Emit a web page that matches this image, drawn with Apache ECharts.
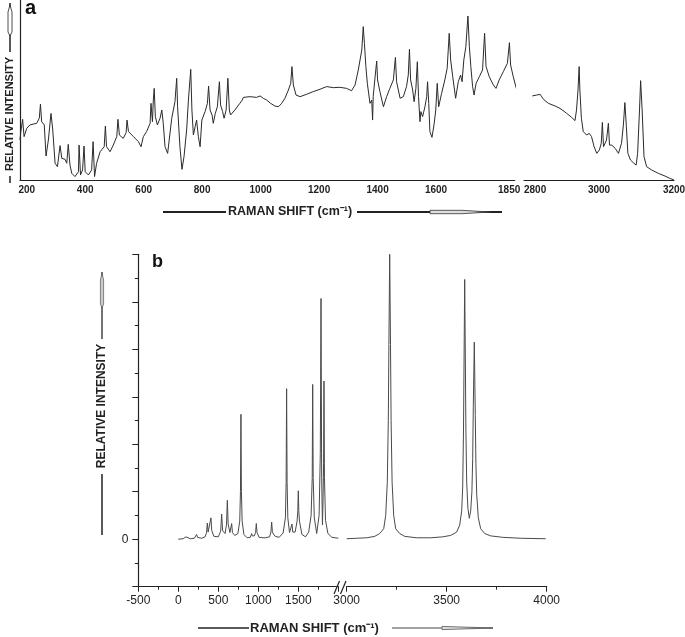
<!DOCTYPE html>
<html><head><meta charset="utf-8">
<script src="https://cdn.jsdelivr.net/npm/echarts@6/dist/echarts.min.js"></script>
<style>html,body{margin:0;padding:0;background:#fff}#c{width:685px;height:637px}</style>
</head><body><div id="c"></div>
<script>
// ---- Panel a: measured spectrum, low-frequency part (cm-1, relative intensity 0..100)
const spectrumA1 = [[177,22.2],[179,25.9],[186,33.7],[191,24.1],[200,28.7],[211,30.6],[234,31.5],[243,34.3],[247,42.2],[251,32.4],[260,30.6],[266,13.3],[274,22.2],[283,37.0],[289,27.8],[297,9.3],[305,7.4],[314,19.1],[320,12.0],[331,11.5],[337,9.3],[342,19.8],[348,8.3],[354,3.7],[365,1.9],[377,4.6],[379,19.4],[384,2.8],[391,5.6],[396,18.9],[400,4.6],[411,2.8],[422,5.6],[427,21.3],[432,1.9],[439,9.3],[451,15.7],[465,18.5],[469,30.0],[473,18.5],[485,15.7],[496,19.4],[508,24.1],[512,33.7],[517,25.0],[530,23.1],[540,26.3],[543,33.3],[548,26.9],[565,24.1],[582,21.3],[591,18.5],[599,24.1],[610,26.9],[622,31.5],[625,42.6],[630,32.4],[633,44.4],[636,50.9],[640,35.2],[647,30.6],[656,34.3],[662,38.9],[667,31.5],[673,18.5],[682,14.8],[688,15.7],[696,34.3],[707,43.5],[713,56.5],[716,40.7],[724,18.5],[731,5.9],[738,13.0],[747,27.8],[753,44.4],[761,61.5],[765,38.9],[770,25.0],[776,29.6],[781,33.3],[787,24.1],[793,18.5],[799,33.3],[810,38.0],[818,42.6],[822,52.2],[827,38.9],[834,36.1],[838,31.5],[845,37.0],[852,40.7],[859,54.6],[863,41.7],[870,38.0],[875,34.3],[882,38.9],[888,56.5],[893,38.9],[897,36.1],[912,38.9],[929,42.6],[937,44.4],[941,45.9],[964,46.3],[986,45.9],[998,46.7],[1009,45.4],[1021,44.4],[1034,42.6],[1049,41.1],[1061,40.7],[1072,42.6],[1083,45.4],[1095,50.0],[1103,53.7],[1107,63.0],[1112,52.8],[1121,47.2],[1135,46.3],[1157,47.6],[1180,49.1],[1203,50.4],[1226,51.9],[1249,51.3],[1271,51.5],[1294,50.9],[1311,49.6],[1323,52.8],[1334,61.1],[1346,72.2],[1351,85.2],[1355,75.9],[1360,63.0],[1365,53.7],[1368,50.0],[1374,42.6],[1380,44.4],[1383,33.3],[1385,46.3],[1391,56.5],[1397,66.1],[1400,55.6],[1408,49.1],[1420,40.7],[1431,46.3],[1442,50.9],[1454,55.6],[1461,68.1],[1465,54.6],[1477,45.4],[1488,46.3],[1499,51.9],[1505,58.3],[1509,72.6],[1513,55.6],[1520,50.0],[1525,43.5],[1531,50.9],[1536,65.7],[1540,46.3],[1545,32.4],[1548,38.0],[1554,35.2],[1562,40.7],[1568,46.3],[1571,54.6],[1575,42.6],[1579,26.9],[1586,23.7],[1593,30.6],[1599,38.9],[1604,53.7],[1609,40.7],[1619,48.1],[1630,55.6],[1638,62.0],[1645,81.5],[1650,66.7],[1657,57.4],[1667,45.4],[1676,54.6],[1684,58.3],[1689,54.6],[1695,66.7],[1702,74.1],[1709,91.1],[1714,74.1],[1719,63.0],[1725,51.9],[1730,47.2],[1737,53.7],[1748,57.4],[1759,61.1],[1766,81.5],[1771,63.0],[1782,57.4],[1796,52.8],[1805,50.9],[1816,55.6],[1830,60.2],[1844,64.8],[1851,76.3],[1855,63.9],[1864,57.4],[1876,50.0],[1885,46.7]];
// ---- Panel a: measured spectrum, C-H stretching part
const spectrumA2 = [[2822,46.7],[2834,47.2],[2843,47.6],[2852,44.8],[2865,42.6],[2883,41.1],[2896,39.8],[2914,37.0],[2927,34.8],[2936,33.0],[2940,38.9],[2944,50.0],[2947,63.0],[2949,50.0],[2953,34.3],[2958,26.9],[2967,25.0],[2974,25.9],[2980,24.1],[2987,18.5],[2994,14.8],[3001,16.7],[3006,20.4],[3009,32.0],[3012,18.5],[3017,19.4],[3020,22.2],[3025,31.5],[3028,19.4],[3034,19.4],[3043,17.6],[3052,14.8],[3060,20.4],[3065,30.6],[3069,43.0],[3073,29.6],[3077,14.8],[3084,11.1],[3093,9.3],[3099,8.3],[3103,14.8],[3108,38.9],[3111,55.2],[3115,38.9],[3120,13.0],[3127,7.4],[3140,5.6],[3158,3.7],[3176,2.2],[3189,0.9],[3200,0.0]];
// ---- Panel b: calculated spectrum, 0..2000 cm-1
const spectrumB1 = [[0,0.00],[60,0.01],[85,0.02],[96,0.05],[107,0.02],[150,0.01],[200,0.02],[218,0.04],[229,0.10],[240,0.04],[290,0.02],[335,0.05],[353,0.14],[363,0.34],[373,0.15],[385,0.13],[398,0.18],[408,0.45],[418,0.18],[445,0.06],[500,0.05],[530,0.17],[542,0.53],[554,0.18],[585,0.12],[603,0.32],[613,0.82],[623,0.32],[645,0.14],[657,0.14],[667,0.33],[677,0.14],[705,0.08],[745,0.12],[768,0.38],[777,1.0],[783,2.63],[789,1.0],[798,0.38],[820,0.10],[860,0.03],[900,0.04],[910,0.07],[917,0.12],[924,0.07],[950,0.07],[966,0.14],[975,0.33],[984,0.14],[1010,0.04],[1060,0.03],[1075,0.07],[1090,0.03],[1140,0.05],[1158,0.15],[1167,0.36],[1176,0.16],[1188,0.11],[1200,0.15],[1212,0.06],[1260,0.04],[1310,0.13],[1339,0.45],[1348,1.2],[1354,3.17],[1360,1.2],[1369,0.45],[1390,0.14],[1410,0.14],[1421,0.32],[1431,0.15],[1460,0.15],[1485,0.38],[1494,0.6],[1500,1.02],[1506,0.6],[1515,0.38],[1545,0.10],[1590,0.05],[1630,0.15],[1660,0.5],[1674,1.3],[1680,3.26],[1686,1.3],[1700,0.45],[1730,0.12],[1760,0.5],[1775,1.8],[1784,5.07],[1792,1.3],[1802,0.3],[1810,0.9],[1816,1.6],[1821,3.33],[1827,1.3],[1840,0.4],[1870,0.12],[1920,0.04],[2000,0.02]];
// ---- Panel b: calculated spectrum, 3000..4000 cm-1
const spectrumB2 = [[3000,0.01],[3050,0.02],[3100,0.03],[3140,0.06],[3165,0.12],[3185,0.22],[3195,0.5],[3203,1.2],[3208,2.5],[3211,4.1],[3215,6.0],[3219,4.1],[3222,2.5],[3227,1.2],[3235,0.5],[3245,0.22],[3265,0.12],[3290,0.06],[3350,0.03],[3420,0.03],[3480,0.05],[3520,0.08],[3550,0.15],[3565,0.3],[3575,0.6],[3580,1.1],[3584,2.3],[3587,3.9],[3590,5.47],[3593,3.9],[3596,2.3],[3600,1.2],[3606,0.65],[3613,0.44],[3620,0.6],[3626,1.0],[3630,1.7],[3633,2.8],[3638,4.15],[3643,2.6],[3646,1.6],[3650,0.95],[3658,0.45],[3670,0.22],[3690,0.12],[3720,0.07],[3780,0.04],[3870,0.02],[3995,0.01]];

const ticksA1 = [200,400,600,800,1000,1200,1400,1600,1850];
const ticksA2 = [2800,3000,3200];
const ticksB1 = [-500,0,500,1000,1500];
const ticksB2 = [3000,3500,4000];
const ticksBY = [0];
const xTitle = 'RAMAN SHIFT (cm\u207B\u00B9)';
const yTitle = 'RELATIVE INTENSITY';
const panelA = 'a', panelB = 'b';

const FONT = '"Liberation Sans", Arial, sans-serif';
const INK = '#222';
const chart = echarts.init(document.getElementById('c'), null, {renderer: 'canvas'});

const plain = function (v) { return String(v); };
function hideAxis(gi, min, max) {
  return {gridIndex: gi, type: 'value', min: min, max: max, show: false};
}
const labA = {fontFamily: FONT, fontWeight: 'bold', fontSize: 10, color: INK, margin: 5, formatter: plain};
const labB = {fontFamily: FONT, fontSize: 12, color: INK, margin: 8, formatter: plain};
const lineA = {show: true, onZero: false, lineStyle: {color: INK, width: 1.2}};
const lineB = {show: true, onZero: false, lineStyle: {color: INK, width: 1.2}};

const option = {
  backgroundColor: '#fff',
  animation: false,
  grid: [
    {left: 20, top: 0, width: 494.7, height: 180, outerBoundsMode: 'none'},
    {left: 524, top: 0, width: 150, height: 180, outerBoundsMode: 'none'},
    {left: 138.3, top: 254.3, width: 200, height: 332.4, outerBoundsMode: 'none'},
    {left: 346.7, top: 254.3, width: 200, height: 332.4, outerBoundsMode: 'none'}
  ],
  xAxis: [
    {gridIndex: 0, type: 'value', min: 177, max: 1869, axisLine: lineA, axisTick: {show: false},
     splitLine: {show: false}, axisLabel: Object.assign({customValues: ticksA1}, labA)},
    {gridIndex: 1, type: 'value', min: 2800, max: 3200, axisLine: lineA, axisTick: {show: false},
     splitLine: {show: false}, axisLabel: Object.assign({customValues: ticksA2, alignMinLabel: 'left'}, labA)},
    {gridIndex: 2, type: 'value', min: -500, max: 2000, interval: 500, axisLine: lineB,
     axisTick: {show: true, length: 5, lineStyle: {color: INK}},
     minorTick: {show: true, splitNumber: 2, length: 3, lineStyle: {color: INK}},
     splitLine: {show: false}, minorSplitLine: {show: false},
     axisLabel: Object.assign({customValues: ticksB1}, labB)},
    {gridIndex: 3, type: 'value', min: 3000, max: 4000, interval: 500, axisLine: lineB,
     axisTick: {show: true, length: 5, lineStyle: {color: INK}},
     minorTick: {show: true, splitNumber: 2, length: 3, lineStyle: {color: INK}},
     splitLine: {show: false}, minorSplitLine: {show: false},
     axisLabel: Object.assign({customValues: ticksB2}, labB)}
  ],
  yAxis: [
    {gridIndex: 0, type: 'value', min: 0, max: 100, axisLine: lineA, axisTick: {show: false},
     axisLabel: {show: false}, splitLine: {show: false}},
    hideAxis(1, 0, 100),
    {gridIndex: 2, type: 'value', min: -1, max: 6, interval: 1, axisLine: lineB,
     axisTick: {show: true, length: 6, lineStyle: {color: INK}},
     minorTick: {show: true, splitNumber: 2, length: 3.5, lineStyle: {color: INK}},
     splitLine: {show: false}, minorSplitLine: {show: false},
     axisLabel: Object.assign({customValues: ticksBY}, labB, {margin: 10})},
    hideAxis(3, -1, 6)
  ],
  series: [
    {type: 'line', xAxisIndex: 0, yAxisIndex: 0, data: spectrumA1, showSymbol: false, clip: false,
     lineStyle: {color: '#2b2b2b', width: 1}, silent: true},
    {type: 'line', xAxisIndex: 1, yAxisIndex: 1, data: spectrumA2, showSymbol: false, clip: false,
     lineStyle: {color: '#2b2b2b', width: 1}, silent: true},
    {type: 'line', xAxisIndex: 2, yAxisIndex: 2, data: spectrumB1, showSymbol: false,
     lineStyle: {color: '#4a4a4a', width: 1}, silent: true},
    {type: 'line', xAxisIndex: 3, yAxisIndex: 3, data: spectrumB2, showSymbol: false,
     lineStyle: {color: '#4a4a4a', width: 1}, silent: true}
  ],
  graphic: [
    // panel a decorations
    {type: 'text', x: 25, y: 18, style: {text: panelA, font: 'bold 20px ' + FONT, fill: '#111', align: 'left', verticalAlign: 'bottom', textAlign: 'left', textVerticalAlign: 'bottom'}},
    {type: 'text', x: 10, y: 114, rotation: Math.PI / 2, style: {text: yTitle, font: 'bold 11px ' + FONT, fill: INK, align: 'center', verticalAlign: 'middle', textAlign: 'center', textVerticalAlign: 'middle'}},
    {type: 'line', shape: {x1: 10, y1: 176, x2: 10, y2: 183}, style: {stroke: INK, lineWidth: 1.5}},
    {type: 'line', shape: {x1: 10, y1: 52, x2: 10, y2: 3}, style: {stroke: INK, lineWidth: 1.5}},
    {type: 'polygon', shape: {points: [[10, 5], [12, 12], [12, 32], [10, 36], [8, 32], [8, 12]]}, style: {fill: '#fff', stroke: INK, lineWidth: 0.8}},
    {type: 'line', shape: {x1: 163, y1: 212, x2: 226, y2: 212}, style: {stroke: INK, lineWidth: 1.8}},
    {type: 'text', x: 228, y: 212, style: {text: xTitle, font: 'bold 12.5px ' + FONT, fill: INK, align: 'left', verticalAlign: 'middle', textAlign: 'left', textVerticalAlign: 'middle'}},
    {type: 'line', shape: {x1: 357, y1: 212, x2: 502, y2: 212}, style: {stroke: INK, lineWidth: 2}},
    {type: 'polygon', shape: {points: [[430, 210.3], [462, 210.3], [490, 212], [462, 213.7], [430, 213.7]]}, style: {fill: '#ddd', stroke: '#333', lineWidth: 0.8}},
    // panel b decorations
    {type: 'text', x: 152, y: 271, style: {text: panelB, font: 'bold 18px ' + FONT, fill: '#111', align: 'left', verticalAlign: 'bottom', textAlign: 'left', textVerticalAlign: 'bottom'}},
    {type: 'text', x: 102, y: 406, rotation: Math.PI / 2, style: {text: yTitle, font: 'bold 12px ' + FONT, fill: INK, align: 'center', verticalAlign: 'middle', textAlign: 'center', textVerticalAlign: 'middle'}},
    {type: 'line', shape: {x1: 102, y1: 474, x2: 102, y2: 535}, style: {stroke: INK, lineWidth: 1.5}},
    {type: 'line', shape: {x1: 102, y1: 339, x2: 102, y2: 272}, style: {stroke: '#444', lineWidth: 1.5}},
    {type: 'polygon', shape: {points: [[102, 273], [103.6, 280], [103.6, 304], [102, 308], [100.4, 304], [100.4, 280]]}, style: {fill: '#ccc', stroke: '#555', lineWidth: 0.7}},
    {type: 'line', shape: {x1: 198, y1: 628, x2: 249, y2: 628}, style: {stroke: INK, lineWidth: 1.5}},
    {type: 'text', x: 250, y: 628, style: {text: xTitle, font: 'bold 13px ' + FONT, fill: INK, align: 'left', verticalAlign: 'middle', textAlign: 'left', textVerticalAlign: 'middle'}},
    {type: 'line', shape: {x1: 392, y1: 628, x2: 493, y2: 628}, style: {stroke: '#444', lineWidth: 1.2}},
    {type: 'polygon', shape: {points: [[442, 626.4], [442, 629.6], [493, 628]]}, style: {fill: '#ddd', stroke: '#555', lineWidth: 0.8}},
    // axis break marks
    {type: 'rect', shape: {x: 339, y: 584, width: 7, height: 6}, style: {fill: '#fff'}},
    {type: 'line', shape: {x1: 334, y1: 594, x2: 339.5, y2: 581}, style: {stroke: INK, lineWidth: 1.2}},
    {type: 'line', shape: {x1: 340.5, y1: 594, x2: 346, y2: 581}, style: {stroke: INK, lineWidth: 1.2}}
  ]
};
chart.setOption(option);
</script>
</body></html>
